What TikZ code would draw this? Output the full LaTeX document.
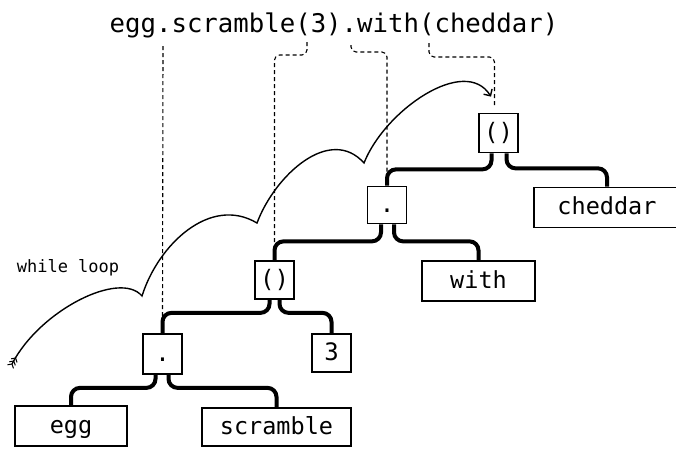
\documentclass[tikz,border=0pt]{standalone}
\usepackage{fontspec}
\setmonofont{DejaVu Sans Mono}
\usetikzlibrary{arrows.meta,calc}
\begin{document}
\begin{tikzpicture}[x=1pt,y=-1pt,
  box/.style={draw,line width=1.7pt,inner sep=0pt,text height=17pt,text depth=3pt,
    font=\ttfamily\fontsize{23.5}{24}\selectfont},
  opbox/.style={box,minimum width=39pt,minimum height=39pt,font=\ttfamily\fontsize{24}{24}\selectfont},
  conn/.style={line width=4pt,rounded corners=9pt},
  guide/.style={line width=1.1pt,dash pattern=on 4pt off 3pt,rounded corners=5pt},
  loopline/.style={line width=1.4pt}]
\useasboundingbox (0,0) rectangle (676,448);
\clip (0,0) rectangle (676,448);

% title
\node[anchor=base,inner sep=0pt,font=\ttfamily\fontsize{25.7}{26}\selectfont] (title) at (334,32) {egg.scramble(3).with(cheddar)};

% tree nodes
\node[opbox] (A) at (498.5,133) {()};
\node[opbox,minimum height=37pt] (B) at (387,205) {.};
\node[box,minimum width=146pt,minimum height=40pt] (cheddar) at (607,207.5) {cheddar};
\node[box,minimum width=113pt,minimum height=40pt] (with) at (478.5,281) {with};
\node[opbox,minimum height=38pt] (C) at (274.5,280) {()};
\node[opbox,minimum height=38pt] (three) at (331.5,353) {3};
\node[opbox,minimum height=40pt] (D) at (162.5,354) {.};
\node[box,minimum width=112pt,minimum height=40pt] (egg) at (71,426) {egg};
\node[box,minimum width=149pt,minimum height=38pt] (scramble) at (276.5,427) {scramble};

% connectors
\draw[conn] ([xshift=-7pt]A.south) -- ++(0,16) -| (B.north);
\draw[conn] ([xshift=8pt]A.south) -- ++(0,15) -| (cheddar.north);
\draw[conn] ([xshift=-6pt]B.south) -- ++(0,17) -| (C.north);
\draw[conn] ([xshift=7pt]B.south) -- ++(0,17) -| (with.north);
\draw[conn] ([xshift=-5pt]C.south) -- ++(0,13) -| (D.north);
\draw[conn] ([xshift=5pt]C.south) -- ++(0,13) -| (three.north);
\draw[conn] ([xshift=-7pt]D.south) -- ++(0,13) -| (egg.north);
\draw[conn] ([xshift=6pt]D.south) -- ++(0,13) -| (scramble.north);

% dashed guides from the title
\coordinate (t1) at (163,46);
\coordinate (t2) at (307,42);
\coordinate (t3) at (351,45);
\coordinate (t4) at (429,43);
\coordinate (g1) at ($(D.north)+(0,-15)$);
\coordinate (g2) at ($(C.north)+(0,-17)$);
\coordinate (g3) at ($(B.north)+(0,-14)$);
\coordinate (g4) at ($(A.north)+(-4,-6)$);
\draw[guide] (t1) -- (g1);
\draw[guide] (t2) -- (307,55) -- (274.5,55) -- (g2);
\draw[guide] (t3) -- (351,52) -- (387,52) -- (g3);
\draw[guide] (t4) -- (429,57) -- (494.5,57) -- (g4);

% while loop arrow
\node[anchor=base,inner sep=0pt,font=\ttfamily\fontsize{17}{17}\selectfont] (wl) at (68,272) {while loop};
\coordinate (tail) at (12,364);
\coordinate (head) at ($(A.north)+(-7.5,-16)$);
\draw[loopline,-{Straight Barb[length=5pt,width=10pt]}] (tail)
  .. controls (40,310) and (120,270) .. (142,296)
  .. controls (158,245) and (210,195) .. (257,223)
  .. controls (275,175) and (330,125) .. (364,163)
  .. controls (385,110) and (465,55) .. (head);
\foreach \s in {0,3.5,7}{
  \draw[line width=1pt] ($(tail)+\s*(0.51,-0.86)+(-1.5,2.6)+(3,1.8)$) -- ($(tail)+\s*(0.51,-0.86)$)
    -- ($(tail)+\s*(0.51,-0.86)+(-1.5,2.6)+(-3,-1.8)$);
}
\end{tikzpicture}
\end{document}
